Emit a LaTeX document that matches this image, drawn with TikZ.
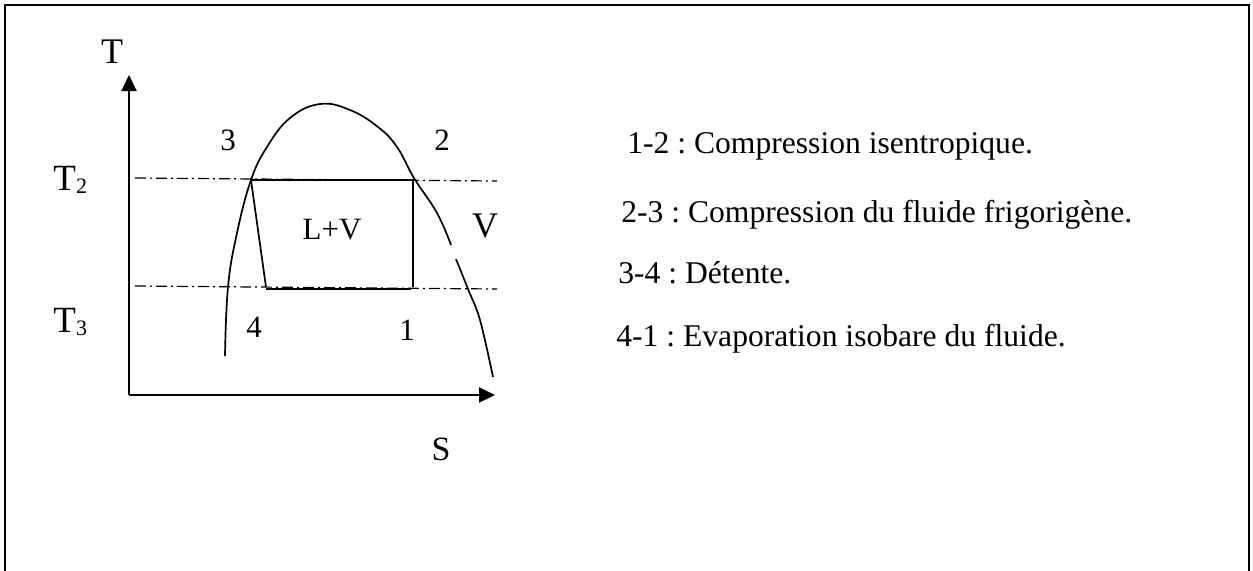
\documentclass[tikz,border=0pt]{standalone}
\usepackage{fontspec}
\setmainfont{Liberation Serif}
\usetikzlibrary{arrows.meta}
\begin{document}
\frenchspacing
\begin{tikzpicture}[x=0.5pt,y=-0.5pt,
  axis/.style={line width=1pt,-{Triangle[length=8pt,width=7.5pt]}},
  isotherm/.style={line width=0.6pt,dash pattern=on 5.5pt off 2pt on 1pt off 2pt},
  cycleline/.style={line width=0.85pt},
  curveline/.style={line width=0.85pt},
  lbl/.style={inner sep=0pt,anchor=base,font=\fontsize{15.5}{18}\selectfont},
  biglbl/.style={inner sep=0pt,anchor=base,font=\fontsize{18}{22}\selectfont},
  sublbl/.style={inner sep=0pt,anchor=base west,font=\fontsize{18.5}{22}\selectfont},
  desc/.style={inner sep=0pt,anchor=base west,font=\fontsize{15.8}{19}\selectfont}]
\useasboundingbox (0,0) rectangle (1253,570);
\clip (0,0) rectangle (1253,570);
% frame
\draw[line width=1pt] (5,590) -- (5,5) -- (1249,5) -- (1249,590);
% axes
\coordinate (O) at (129,395);
\coordinate (Ttip) at (129,75);
\coordinate (Stip) at (495,395);
\draw[axis] (O) -- (Ttip);
\draw[axis] (O) -- (Stip);
% isotherms
\coordinate (a2) at (135,178); \coordinate (b2) at (497,181);
\coordinate (a3) at (135,286); \coordinate (b3) at (497,289);
\draw[isotherm] (a2) -- (b2);
\draw[isotherm] (a3) -- (b3);
% cycle
\coordinate (p3) at (251,180);
\coordinate (p2) at (413,180);
\coordinate (p1) at (413,287);
\coordinate (p4) at (266,287);
\coordinate (p4b) at (266,289);
\coordinate (p1b) at (411,289);
\draw[cycleline] (p1) -- (p2) -- (p3) -- (p4);
\draw[cycleline] (p4b) -- (p1b);
% saturation curve
\draw[curveline] plot[smooth,tension=0.7] coordinates {(225,356) (228,287) (237,233) (251,180) (267,147) (290,118) (320,104) (350,110) (378,127) (397,147) (414,178) (437,213) (451,245)};
\draw[curveline] plot[smooth,tension=0.6] coordinates {(456,259) (468,289) (480,320) (493,377)};
% labels
\node[biglbl] (T) at (112,63) {T};
\node[sublbl] (T2) at (53,190) {T\raisebox{-1.5pt}{\fontsize{11}{13}\selectfont 2}};
\node[sublbl] (T3) at (53,332) {T\raisebox{-1.5pt}{\fontsize{11}{13}\selectfont 3}};
\node[lbl] (n3) at (228,150) {3};
\node[lbl] (n2) at (442,150) {2};
\node[lbl] (nLV) at (332,239) {L+V};
\node[biglbl] (nV) at (485,237) {V};
\node[lbl] (n4) at (254,337) {4};
\node[lbl] (n1) at (407,340) {1};
\node[biglbl,font=\fontsize{17}{20}\selectfont] (S) at (441,460) {S};
% descriptions
\node[desc] (d1) at (627,153) {1-2 : Compression isentropique.};
\node[desc] (d2) at (621,222) {2-3 : Compression du fluide frigorigène.};
\node[desc] (d3) at (618,283) {3-4 : Détente.};
\node[desc] (d4) at (616,346) {4-1 : Evaporation isobare du fluide.};
\end{tikzpicture}
\end{document}
